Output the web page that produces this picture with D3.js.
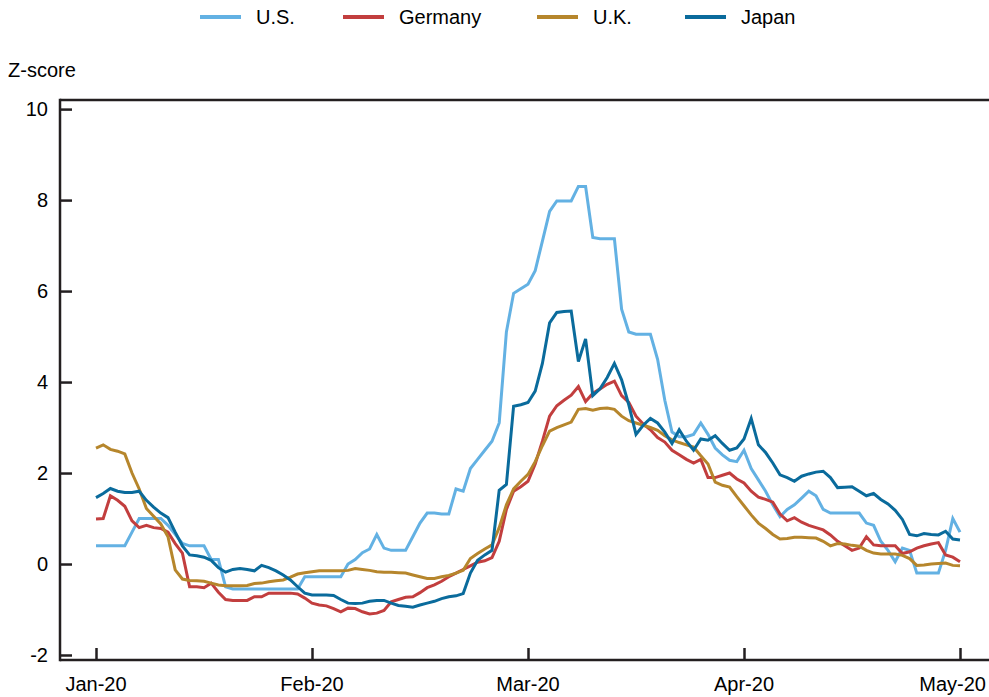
<!DOCTYPE html>
<html>
<head>
<meta charset="utf-8">
<script src="https://cdn.jsdelivr.net/npm/d3@7"></script>
<style>
  body { margin: 0; background: #fff; }
  svg text { font-family: "Liberation Sans", Arial, sans-serif; fill: #000; }
</style>
</head>
<body>
<svg id="chart"></svg>
<script>
// daily observations, Jan 1 to May 1 2020
const monthLabels = ["Jan-20", "Feb-20", "Mar-20", "Apr-20", "May-20"];
const monthIndex = [0, 30, 60, 90, 120];
const yTicks = [-2, 0, 2, 4, 6, 8, 10];

const usValues = [0.4, 0.4, 0.4, 0.4, 0.4, 0.7, 1.0, 1.0, 1.0, 1.0,
  0.85, 0.65, 0.45, 0.4, 0.4, 0.4, 0.1, 0.1, -0.5, -0.55,
  -0.55, -0.55, -0.55, -0.55, -0.55, -0.55, -0.55, -0.55, -0.55, -0.28,
  -0.28, -0.28, -0.28, -0.28, -0.28, 0.0, 0.1, 0.25, 0.33, 0.65,
  0.35, 0.3, 0.3, 0.3, 0.6, 0.9, 1.12, 1.12, 1.1, 1.1,
  1.65, 1.6, 2.1, 2.3, 2.5, 2.7, 3.1, 5.1, 5.95, 6.05,
  6.15, 6.45, 7.1, 7.75, 7.98, 7.98, 7.98, 8.3, 8.3, 7.18,
  7.15, 7.15, 7.15, 5.6, 5.1, 5.05, 5.05, 5.05, 4.5, 3.6,
  2.9, 2.8, 2.8, 2.85, 3.1, 2.85, 2.55, 2.4, 2.28, 2.25,
  2.5, 2.1, 1.85, 1.6, 1.3, 1.04, 1.2, 1.3, 1.45, 1.6,
  1.5, 1.2, 1.12, 1.12, 1.12, 1.12, 1.12, 0.9, 0.85, 0.5,
  0.3, 0.05, 0.35, 0.3, -0.2, -0.2, -0.2, -0.2, 0.3, 1.0,
  0.7];

const germanyValues = [0.99, 1.0, 1.5, 1.4, 1.27, 0.95, 0.8, 0.85, 0.8, 0.78,
  0.7, 0.45, 0.24, -0.5, -0.5, -0.52, -0.42, -0.62, -0.78, -0.8,
  -0.8, -0.8, -0.72, -0.72, -0.64, -0.64, -0.64, -0.64, -0.66, -0.75,
  -0.86, -0.9, -0.92, -0.98, -1.05, -0.97, -0.98, -1.05, -1.1, -1.08,
  -1.02, -0.83, -0.78, -0.73, -0.72, -0.63, -0.52, -0.46, -0.38, -0.28,
  -0.2, -0.12, -0.04, 0.04, 0.07, 0.14, 0.5, 1.2, 1.6, 1.7,
  1.82, 2.2, 2.7, 3.25, 3.48, 3.6, 3.71, 3.9, 3.57, 3.75,
  3.85, 3.95, 4.02, 3.7, 3.55, 3.25, 3.08, 2.95, 2.78, 2.68,
  2.5, 2.4, 2.3, 2.22, 2.3, 1.9, 1.9, 1.95, 2.0, 1.87,
  1.78, 1.6, 1.47, 1.42, 1.36, 1.1, 0.95, 1.02, 0.92, 0.85,
  0.8, 0.75, 0.64, 0.5, 0.4, 0.3, 0.35, 0.6, 0.42, 0.4,
  0.4, 0.4, 0.23, 0.27, 0.35, 0.4, 0.44, 0.47, 0.2, 0.15,
  0.05];

const ukValues = [2.55, 2.62, 2.52, 2.48, 2.42, 2.0, 1.65, 1.22, 1.05, 0.88,
  0.6, -0.13, -0.33, -0.36, -0.37, -0.38, -0.42, -0.46, -0.48, -0.48,
  -0.48, -0.47, -0.43, -0.42, -0.39, -0.37, -0.35, -0.29, -0.22, -0.19,
  -0.17, -0.15, -0.15, -0.15, -0.15, -0.14, -0.1, -0.12, -0.14, -0.17,
  -0.18, -0.18, -0.19, -0.2, -0.24, -0.28, -0.32, -0.32, -0.28, -0.25,
  -0.2, -0.14, 0.12, 0.23, 0.33, 0.42, 0.8, 1.3, 1.65, 1.82,
  1.97, 2.25, 2.6, 2.92, 3.0, 3.06, 3.12, 3.4, 3.42, 3.38,
  3.42, 3.43, 3.4, 3.25, 3.15, 3.1, 3.05, 3.0, 2.94, 2.82,
  2.73, 2.67, 2.62, 2.57, 2.38, 2.2, 1.8, 1.73, 1.69, 1.48,
  1.28, 1.08, 0.9, 0.78, 0.65, 0.55, 0.56, 0.59, 0.59, 0.58,
  0.57, 0.5, 0.4, 0.45, 0.44, 0.41, 0.39, 0.3, 0.24, 0.22,
  0.22, 0.22, 0.19, 0.12, -0.03, -0.02, 0.0, 0.01, 0.02, -0.03,
  -0.04];

const japanValues = [1.46, 1.55, 1.66, 1.6, 1.57, 1.57, 1.6, 1.4, 1.25, 1.12,
  1.02, 0.7, 0.4, 0.2, 0.18, 0.15, 0.08, -0.08, -0.18, -0.12,
  -0.1, -0.12, -0.15, -0.03, -0.08, -0.15, -0.24, -0.35, -0.5, -0.64,
  -0.68, -0.68, -0.68, -0.69, -0.78, -0.86, -0.87, -0.86, -0.82, -0.8,
  -0.8, -0.86, -0.91, -0.93, -0.95, -0.9, -0.86, -0.82, -0.76, -0.72,
  -0.7, -0.65, -0.2, 0.08, 0.2, 0.3, 1.62, 1.75, 3.47, 3.5,
  3.55, 3.8, 4.41, 5.3, 5.53, 5.55, 5.56, 4.45, 4.95, 3.7,
  3.85, 4.1, 4.41, 4.05, 3.5, 2.85, 3.05, 3.2, 3.1, 2.9,
  2.65, 2.95, 2.7, 2.5, 2.75, 2.72, 2.82, 2.65, 2.5, 2.55,
  2.75, 3.2, 2.62, 2.45, 2.22, 1.96, 1.9, 1.82, 1.93, 1.98,
  2.02, 2.04, 1.9, 1.68, 1.69, 1.7, 1.6, 1.5, 1.55, 1.42,
  1.32, 1.18, 0.98, 0.65, 0.62, 0.67, 0.65, 0.64, 0.72, 0.55,
  0.53];

const seriesNames = ["U.S.", "Germany", "U.K.", "Japan"];
const seriesColors = ["#63b1e3", "#c23e3e", "#b6862c", "#0a6b9c"];
const seriesValues = [usValues, germanyValues, ukValues, japanValues];

const width = 989, height = 697;
const plotLeft = 60, plotRight = 989, plotTop = 100, plotBottom = 660;

const svg = d3.select("#chart")
  .attr("width", width)
  .attr("height", height);

const x = d3.scaleLinear().domain([0, 120]).range([96, 960]);
const y = d3.scaleLinear().domain([-2.11, 10.2]).range([plotBottom, plotTop]);

// frame: top line, left axis, bottom axis
svg.append("line")
  .attr("x1", plotLeft).attr("x2", plotRight)
  .attr("y1", plotTop).attr("y2", plotTop)
  .attr("stroke", "#231f20").attr("stroke-width", 2.5);

const yAxis = d3.axisRight(y)
  .tickValues(yTicks)
  .tickSize(12)
  .tickFormat("");
svg.append("g")
  .attr("transform", "translate(" + plotLeft + ",0)")
  .call(yAxis)
  .call(g => g.select(".domain").remove())
  .call(g => g.selectAll(".tick line").attr("stroke", "#231f20").attr("stroke-width", 2.5));

svg.append("g").selectAll("text")
  .data(yTicks)
  .enter()
  .append("text")
  .attr("x", 48)
  .attr("y", d => y(d))
  .attr("dy", "0.35em")
  .attr("text-anchor", "end")
  .style("font-size", "20px")
  .text(d => d);

const xAxis = d3.axisTop(x)
  .tickValues(monthIndex)
  .tickSize(12)
  .tickFormat("");
svg.append("g")
  .attr("transform", "translate(0," + plotBottom + ")")
  .call(xAxis)
  .call(g => g.select(".domain").remove())
  .call(g => g.selectAll(".tick line").attr("stroke", "#231f20").attr("stroke-width", 2.5));

// last label is pulled in so it stays inside the page
svg.append("g").selectAll("text")
  .data(monthIndex)
  .enter()
  .append("text")
  .attr("x", (d, i) => i === monthIndex.length - 1 ? 986 : x(d))
  .attr("y", 691)
  .attr("text-anchor", (d, i) => i === monthIndex.length - 1 ? "end" : "middle")
  .style("font-size", "20px")
  .text((d, i) => monthLabels[i]);

svg.append("line")
  .attr("x1", plotLeft).attr("x2", plotLeft)
  .attr("y1", plotTop - 1.25).attr("y2", plotBottom + 1.25)
  .attr("stroke", "#231f20").attr("stroke-width", 2.5);
svg.append("line")
  .attr("x1", plotLeft).attr("x2", plotRight)
  .attr("y1", plotBottom).attr("y2", plotBottom)
  .attr("stroke", "#231f20").attr("stroke-width", 2.5);

svg.append("text")
  .attr("x", 8)
  .attr("y", 77)
  .style("font-size", "20px")
  .text("Z-score");

// series lines
const line = d3.line()
  .x((d, i) => x(i))
  .y(d => y(d));

svg.append("g").selectAll("path")
  .data(seriesValues)
  .enter()
  .append("path")
  .attr("d", d => line(d))
  .attr("fill", "none")
  .attr("stroke", (d, i) => seriesColors[i])
  .attr("stroke-width", 3)
  .attr("stroke-linejoin", "miter");

// legend
const legendX = [200, 343, 537, 685];
const legend = svg.append("g").selectAll("g")
  .data(seriesNames)
  .enter()
  .append("g")
  .attr("transform", (d, i) => "translate(" + legendX[i] + ",17)");
legend.append("line")
  .attr("x1", 0).attr("x2", 41)
  .attr("stroke", (d, i) => seriesColors[i])
  .attr("stroke-width", 4);
legend.append("text")
  .attr("x", 56)
  .attr("dy", "0.35em")
  .style("font-size", "20px")
  .text(d => d);
</script>
</body>
</html>
